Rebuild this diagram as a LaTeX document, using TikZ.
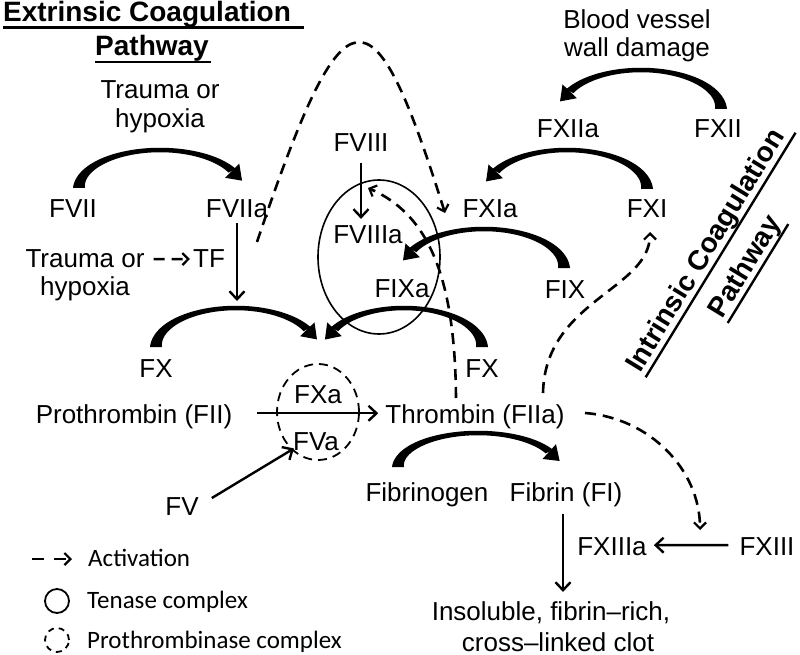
\documentclass[tikz,border=0pt]{standalone}
\usepackage{fontspec}
\setmainfont{Liberation Sans}
\newfontfamily\legfont{Carlito}
\usetikzlibrary{calc,arrows.meta,shapes.geometric}
\newcommand{\blockarc}[6]{%
 \fill plot[domain=#5:#6, samples=60] ({#1+(#3+arcw(\x)/2)*cos(\x)}, {#2-(#4+arcw(\x)/2)*sin(\x)})
   -- plot[domain=#6:#5, samples=60] ({#1+(#3-arcw(\x)/2)*cos(\x)}, {#2-(#4-arcw(\x)/2)*sin(\x)}) -- cycle;
 \coordinate (ab) at ({#1+#3*cos(#6)}, {#2-#4*sin(#6)});
 \coordinate (at) at ({#1+#3*cos(#6+(#6-#5)/40)}, {#2-#4*sin(#6+(#6-#5)/40)});
 \fill ($(ab)!14pt!(at)$) -- ($(ab)!10pt!90:(at)$) -- ($(ab)!10pt!-90:(at)$) -- cycle;
}
\begin{document}
\begin{tikzpicture}[x=1pt,y=-1pt,
  lbl/.style={font=\fontsize{26}{29}\selectfont, inner sep=0pt, anchor=base},
  ttl/.style={font=\fontsize{28}{33}\selectfont\bfseries, inner sep=0pt, anchor=base},
  leg/.style={font=\legfont\fontsize{25}{28}\selectfont, inner sep=0pt, anchor=base west},
  arr/.style={line width=2.4pt, -{Straight Barb[length=8pt,width=15pt,line width=2.4pt]}},
  darr/.style={line width=2.6pt, dash pattern=on 11pt off 7pt, -{Straight Barb[length=6pt,width=12pt,line width=2.2pt]}},
  ring/.style={line width=1.6pt},
  uline/.style={line width=2.4pt},
  declare function={arcw(\x)=4.5+7.5*((\x-90)/90)^2;}
]
\useasboundingbox[fill=white] (0,0) rectangle (800,655);

% titles
\node[ttl] (ext1) at (147,22) {Extrinsic Coagulation};
\node[ttl] (ext2) at (152,56) {Pathway};
\draw[uline] ($(ext1.base west)+(0,5.5)$) -- ($(ext1.base east)+(13,5.5)$);
\draw[uline] ($(ext2.base west)+(0,6)$) -- ($(ext2.base east)+(2,6)$);

\node[ttl, rotate=58.5] (intr1) at (713,255) {Intrinsic Coagulation};
\node[ttl, rotate=58.5] (intr2) at (752,271) {Pathway};
\draw[uline] ($(intr1.base west)+(5.5,3.4)$) -- ($(intr1.base east)+(5.5,3.4)+(4.2,-6.8)$);
\draw[uline] ($(intr2.base west)+(5.5,3.4)$) -- ($(intr2.base east)+(5.5,3.4)+(1,-1.7)$);

% labels
\node[lbl] (tr1a) at (160,99) {Trauma or};
\node[lbl] (tr1b) at (160,128) {hypoxia};
\node[lbl] (fvii) at (73,218) {FVII};
\node[lbl] (fviia) at (237,218) {FVIIa};
\node[lbl] (tr2a) at (85,267) {Trauma or};
\node[lbl] (tr2b) at (85,295) {hypoxia};
\node[lbl] (tf) at (209,267) {TF};
\node[lbl] (fxl) at (156,377) {FX};
\node[lbl] (proth) at (134,423) {Prothrombin (FII)};
\node[lbl] (fxa) at (318,403) {FXa};
\node[lbl] (fva) at (316,450) {FVa};
\node[lbl] (fv) at (182,515) {FV};
\node[lbl] (fviii) at (361,152) {FVIII};
\node[lbl] (fviiia) at (368,243) {FVIIIa};
\node[lbl] (fixa) at (402,297) {FIXa};
\node[lbl] (fix) at (565,298) {FIX};
\node[lbl] (fxia) at (490,218) {FXIa};
\node[lbl] (fxi) at (647,218) {FXI};
\node[lbl] (fxiia) at (568,138) {FXIIa};
\node[lbl] (fxii) at (718,138) {FXII};
\node[lbl] (bv1) at (637,29) {Blood vessel};
\node[lbl] (bv2) at (637,57) {wall damage};
\node[lbl] (fxr) at (482,377) {FX};
\node[lbl] (thr) at (475,423) {Thrombin (FIIa)};
\node[lbl] (fbg) at (427,501) {Fibrinogen};
\node[lbl] (fib) at (566,501) {Fibrin (FI)};
\node[lbl] (fxiiia) at (612,555) {FXIIIa};
\node[lbl] (fxiii) at (767,555) {FXIII};
\node[lbl] (ins1) at (551,620) {Insoluble, fibrin–rich,};
\node[lbl] (ins2) at (558,651) {cross–linked clot};

% block arcs
\blockarc{160}{188}{81}{38}{180}{27}
\blockarc{236}{347}{80}{39}{180}{27}
\blockarc{404}{347}{78}{39}{0}{153}
\blockarc{484}{268}{80}{39}{0}{153}
\blockarc{567}{189}{80}{39}{0}{153}
\blockarc{641}{109}{80}{39}{0}{153}
\blockarc{478}{467}{80}{34}{180}{27}

% complexes
\node[draw, ring, ellipse, minimum width=122pt, minimum height=154pt, inner sep=0pt] (tenase) at (379,257) {};
\draw[line width=1.8pt, dash pattern=on 9pt off 6pt] (318,412) ellipse [x radius=41pt, y radius=48pt];

% solid arrows
\coordinate (arcBtop) at (236,301);
\draw[arr] ($(fviia.south)+(0,5)$) -- (fviia.south |- arcBtop);
\draw[arr] ($(fviii.south)+(0,11)$) -- ($(fviii.south |- fviiia.north)+(0,-6)$);
\draw[arr] ($(proth.east)+(25,-3)$) -- ($(thr.west)+(-7,-3)$);
\draw[arr] ($(fv.east)+(13,-8)$) -- ($(fva.south west)+(1,-2)$);
\draw[arr] ($(fib.south)+(-3,7)$) -- ($(fib.south |- ins1.north)+(-3,-9)$);
\draw[arr] ($(fxiii.west)+(-11,-1)$) -- ($(fxiiia.east)+(7,-1)$);

% dashed activation arrows
\draw[darr] ($(tr2a.east)+(9,1)$) -- ($(tf.west)+(-3,1)$);
\coordinate (tfc) at (257,242);
\coordinate (fxiaIn) at (445,213);
\draw[darr] (tfc) .. controls (345,-19) and (372,-19) .. (fxiaIn);
\coordinate (thrA) at (456,398);
\coordinate (fviiiaIn) at (368,188);
\draw[darr] (thrA) .. controls (455,280) and (430,215) .. (fviiiaIn);
\coordinate (thrB) at (543,393);
\coordinate (fxiIn) at (650,232);
\draw[darr] (thrB) .. controls (545,300) and (650,290) .. (fxiIn);
\coordinate (thrC) at (585,413);
\coordinate (fxiiiaIn) at (700,530);
\draw[darr] (thrC) .. controls (650,418) and (700,470) .. (fxiiiaIn);

% legend
\coordinate (lg1a) at (32,559);
\coordinate (lg1b) at (72,559);
\draw[darr, dash pattern=on 12pt off 10pt] (lg1a) -- (lg1b);
\node[leg] (lgt1) at (88,566) {Activation};
\node[draw, circle, line width=1.8pt, minimum size=24pt, inner sep=0pt] (lgc1) at (57,601) {};
\node[leg] (lgt2) at (87,608) {Tenase complex};
\node[draw, circle, line width=1.8pt, dash pattern=on 6pt off 5pt, minimum size=24pt, inner sep=0pt] (lgc2) at (57,640) {};
\node[leg] (lgt3) at (87,648) {Prothrombinase complex};
\end{tikzpicture}
\end{document}
